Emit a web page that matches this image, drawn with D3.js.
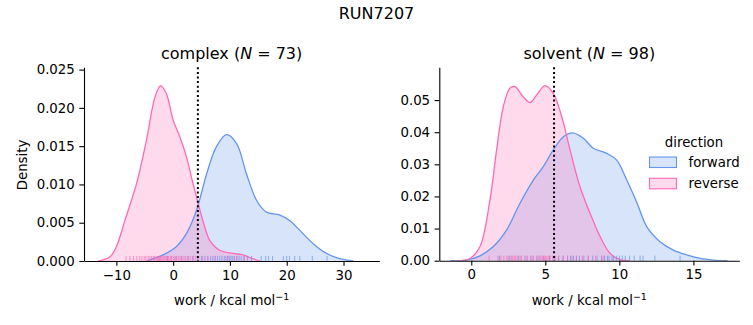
<!DOCTYPE html>
<html><head><meta charset="utf-8">
<script src="https://cdn.jsdelivr.net/npm/d3@7"></script>
<style>body{margin:0;background:#fff}svg{display:block}text{font-family:"DejaVu Sans",sans-serif;fill:#000}</style>
</head><body><svg id="c" width="753" height="325"></svg>
<script>
// ---- data ----
const suptitle = "RUN7207";
const panels = ["complex", "solvent"];
const panelN = [73, 98];
const directions = ["forward", "reverse"];
const colors = ["#6495ED", "#FF69B4"];
// KDE curves: [work, density]
const complexForward = [[-4.7,0],[-1.76,0.0008],[0.6,0.0019],[2.35,0.0036],[4.1,0.0066],[5.9,0.0114],[7.6,0.0149],[9.4,0.0165],[11.2,0.0153],[12.9,0.0114],[14.7,0.0079],[16.4,0.0064],[18.8,0.0060],[20.5,0.0053],[22.3,0.0040],[24.6,0.0023],[27,0.0010],[29.3,0.0003],[31.7,0]];
const complexReverse = [[-13.2,0],[-11.1,0.00056],[-10,0.00186],[-8.5,0.0053],[-6.45,0.0101],[-4.7,0.0158],[-3.2,0.0214],[-2.2,0.0229],[-1.17,0.0218],[0,0.0184],[1.18,0.0162],[2.35,0.0136],[3.2,0.011],[4.1,0.0084],[5.3,0.0051],[6.45,0.0027],[8.2,0.0014],[10.5,0.0010],[12.3,0.0008],[14,0.0003],[15.3,0]];
const solventForward = [[-1.44,0],[-0.3,0.0002],[0.59,0.0015],[1.49,0.0044],[2.39,0.0096],[3.29,0.0179],[4.19,0.0251],[4.86,0.0293],[5.54,0.0345],[6.22,0.0386],[6.85,0.0398],[7.57,0.0381],[8.24,0.0350],[9.15,0.0334],[9.82,0.0313],[10.5,0.0251],[11.2,0.0179],[11.85,0.0106],[12.75,0.0059],[13.65,0.0033],[14.55,0.0018],[15.45,0.0007],[16.35,0.0002],[17.3,0]];
const solventReverse = [[-0.99,0],[-0.09,0.0007],[0.59,0.0044],[1.26,0.0189],[1.71,0.0345],[2.16,0.0479],[2.61,0.0537],[2.95,0.0542],[3.51,0.0510],[3.97,0.0492],[4.42,0.0516],[4.98,0.0545],[5.54,0.0521],[6.11,0.0448],[6.67,0.0345],[7.34,0.0230],[8.02,0.0148],[8.7,0.0075],[9.37,0.0023],[10.05,0.0003],[10.7,0]];
// rug samples
const complexForwardRug = [-1.0,0.5,1.5,2.6,3.5,4.3,5.0,5.6,6.1,6.6,7.0,7.4,7.8,8.2,8.6,9.0,9.3,9.6,9.9,10.2,10.5,10.8,11.2,11.6,12.0,12.5,13.1,13.8,15.5,16.3,16.8,17.5,19.4,20.0,20.5,21.4,22.3,24.5,27.1];
const complexReverseRug = [-8.3,-7.6,-7.0,-6.4,-5.9,-5.5,-5.1,-4.8,-4.4,-4.1,-3.8,-3.5,-3.3,-3.0,-2.8,-2.6,-2.4,-2.2,-2.0,-1.8,-1.6,-1.4,-1.2,-1.0,-0.8,-0.5,-0.3,0.0,0.3,0.6,0.9,1.2,1.5,1.9,2.2,2.6,3.0,3.4,3.9,4.5,5.2,6.1,7.4,9.6,11.2,12.5];
const solventForwardRug = [1.9,2.6,3.2,3.7,4.1,4.5,4.9,5.3,5.6,5.9,6.2,6.5,6.7,6.9,7.1,7.3,7.6,7.9,8.2,8.5,8.8,9.0,9.2,9.3,9.5,9.6,9.8,10.0,10.2,10.4,10.7,11.0,11.4,11.6,12.4,14.1];
const solventReverseRug = [1.2,1.8,2.0,2.2,2.4,2.5,2.7,2.8,2.9,3.0,3.1,3.3,3.4,3.6,3.8,4.0,4.2,4.4,4.6,4.7,4.8,4.9,5.0,5.1,5.2,5.3,5.5,5.7,5.9,6.2,6.5,6.8,7.1,7.5,7.9,8.4,8.9];
// dotted reference lines (work values)
const vlines = [4.35, 5.59];
const xDomains = [[-15.7, 36.3], [-2.16, 18.1]];
const yDomains = [[0, 0.0253], [0, 0.0602]];
const xTicks = [[-10, 0, 10, 20, 30], [0, 5, 10, 15]];
const yTicks = [[0, 0.005, 0.01, 0.015, 0.02, 0.025], [0, 0.01, 0.02, 0.03, 0.04, 0.05]];
const yFormats = [".3f", ".2f"];

// ---- layout ----
const svg = d3.select("#c");
const boxes = [{x0: 84, x1: 379.3, y0: 67.3, y1: 261}, {x0: 439.3, x1: 739.3, y0: 67.3, y1: 260.7}];
const curves = [[complexForward, complexReverse], [solventForward, solventReverse]];
const rugs = [[complexForwardRug, complexReverseRug], [solventForwardRug, solventReverseRug]];

svg.append("text").attr("x", 376.5).attr("y", 19).attr("text-anchor", "middle").style("font-size", "16px").text(suptitle);

panels.forEach((p, i) => {
  const b = boxes[i];
  const x = d3.scaleLinear().domain(xDomains[i]).range([b.x0, b.x1]);
  const y = d3.scaleLinear().domain(yDomains[i]).range([b.y1, b.y0]);
  const g = svg.append("g");
  const clipId = "clip" + i;
  g.append("clipPath").attr("id", clipId).append("rect")
    .attr("x", b.x0).attr("y", b.y0 - 2).attr("width", b.x1 - b.x0).attr("height", b.y1 - b.y0 + 2);
  const pg = g.append("g").attr("clip-path", `url(#${clipId})`);
  const crv = d3.curveCatmullRom.alpha(0.5);
  const area = d3.area().x(d => x(d[0])).y0(y(0)).y1(d => y(d[1])).curve(crv);
  const line = d3.line().x(d => x(d[0])).y(d => y(d[1])).curve(crv);
  curves[i].forEach((c, k) => {
    pg.append("path").attr("d", area(c)).attr("fill", colors[k]).attr("fill-opacity", 0.25);
  });
  curves[i].forEach((c, k) => {
    pg.append("path").attr("d", line(c)).attr("fill", "none").attr("stroke", colors[k]).attr("stroke-width", 1.3);
  });
  // rugs
  const rh = (b.y1 - b.y0) * 0.026;
  rugs[i].forEach((r, k) => {
    g.selectAll(null).data(r).enter().append("line")
      .attr("x1", d => x(d)).attr("x2", d => x(d))
      .attr("y1", b.y1).attr("y2", b.y1 - rh)
      .attr("stroke", colors[k]).attr("stroke-opacity", 0.7).attr("stroke-width", 1);
  });
  // dotted line
  g.append("line").attr("x1", x(vlines[i])).attr("x2", x(vlines[i]))
    .attr("y1", b.y0).attr("y2", b.y1)
    .attr("stroke", "#000").attr("stroke-width", 2).attr("stroke-dasharray", "2,2.6");
  // axes
  const xa = g.append("g").attr("transform", `translate(0,${b.y1})`)
    .call(d3.axisBottom(x).tickValues(xTicks[i]).tickSize(4.7).tickPadding(4.5).tickSizeOuter(0)
      .tickFormat(d => d3.format("d")(d).replace("-", "\u2212")));
  const ya = g.append("g").attr("transform", `translate(${b.x0},0)`)
    .call(d3.axisLeft(y).tickValues(yTicks[i]).tickSize(4.7).tickPadding(4.5).tickSizeOuter(0)
      .tickFormat(d3.format(yFormats[i])));
  [xa, ya].forEach(a => {
    a.selectAll("text").style("font-size", "13.33px").style("font-family", "DejaVu Sans");
    a.selectAll("line,path").attr("stroke", "#000").attr("stroke-width", 1.1);
  });
  // title
  const cx = (b.x0 + b.x1) / 2;
  const t = svg.append("text").attr("x", cx).attr("y", 59).attr("text-anchor", "middle").style("font-size", "16px");
  t.append("tspan").text(p + " (");
  t.append("tspan").style("font-style", "italic").text("N");
  t.append("tspan").text(" = " + panelN[i] + ")");
  // x label
  const xl = svg.append("text").attr("x", cx).attr("y", 305).attr("text-anchor", "middle").style("font-size", "13.33px");
  xl.append("tspan").text("work / kcal mol");
  xl.append("tspan").attr("dy", -5).style("font-size", "9.5px").text("\u22121");
});
svg.append("text").attr("transform", "translate(26.5,165) rotate(-90)").attr("text-anchor", "middle").style("font-size", "13.33px").text("Density");

// legend
const lg = svg.append("g");
lg.append("text").attr("x", 694).attr("y", 147).attr("text-anchor", "middle").style("font-size", "13.33px").text("direction");
directions.forEach((d, k) => {
  const yy = 157 + k * 21.3;
  lg.append("rect").attr("x", 649.5).attr("y", yy).attr("width", 27).attr("height", 10.5)
    .attr("fill", colors[k]).attr("fill-opacity", 0.25).attr("stroke", colors[k]).attr("stroke-width", 1.1);
  lg.append("text").attr("x", 688.5).attr("y", yy + 10).style("font-size", "13.33px").text(d);
});
</script></body></html>
